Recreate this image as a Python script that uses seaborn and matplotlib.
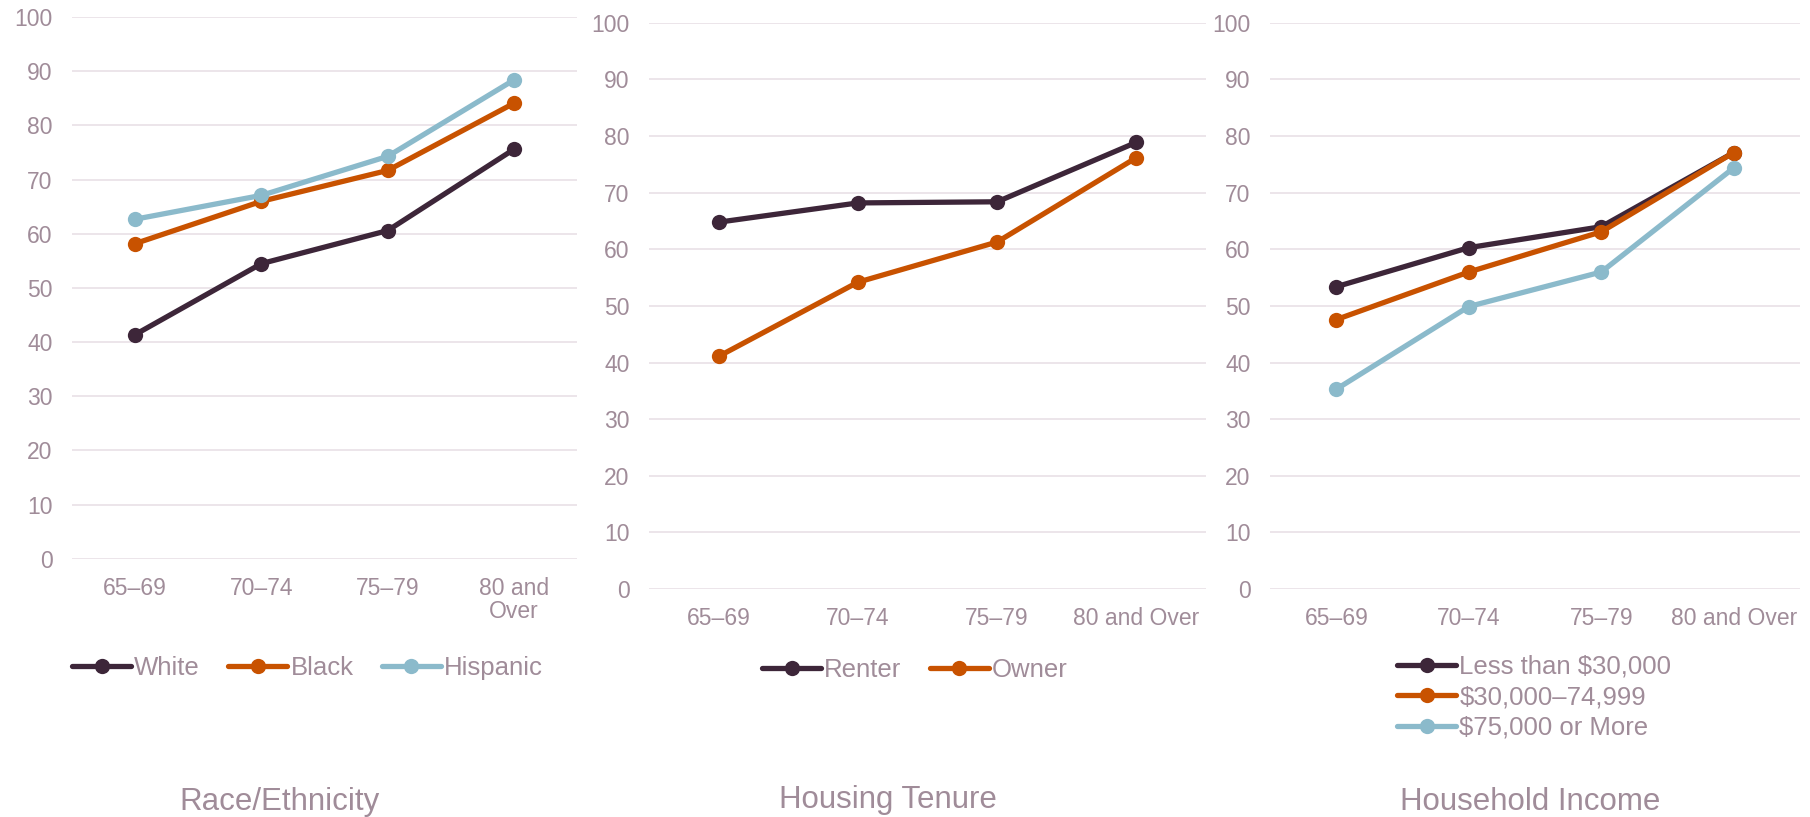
import pandas as pd
import seaborn as sns
import matplotlib.pyplot as plt

ages = ["65–69", "70–74", "75–79", "80 and Over"]

race_groups = ["White", "Black", "Hispanic"]
white = [41.4, 54.5, 60.6, 75.6]
black = [58.2, 66.0, 71.7, 84.1]
hispanic = [62.7, 67.1, 74.3, 88.4]

tenure_groups = ["Renter", "Owner"]
renter = [64.8, 68.2, 68.4, 78.9]
owner = [41.1, 54.2, 61.3, 76.2]

income_groups = ["Less than $30,000", "$30,000–74,999", "$75,000 or More"]
inc_low = [53.4, 60.3, 64.0, 77.1]
inc_mid = [47.6, 56.0, 63.1, 77.1]
inc_high = [35.3, 49.9, 56.0, 74.4]

colors = ["#3d2639", "#c85200", "#8bbacb"]
text_color = "#a08c99"
grid_color = "#ebe3e8"


def make_frame(groups, series):
    rows = []
    for g, vals in zip(groups, series):
        for a, v in zip(ages, vals):
            rows.append({"age": a, "value": v, "group": g})
    return pd.DataFrame(rows)


sns.set_style("white")
plt.rcParams["font.family"] = ["Liberation Sans", "DejaVu Sans"]

fig = plt.figure(figsize=(18.1, 8.17), dpi=100)

panels = [
    ([0.0398, 0.316, 0.279, 0.663], race_groups, [white, black, hispanic], True),
    ([0.3586, 0.279, 0.3077, 0.693], tenure_groups, [renter, owner], False),
    ([0.7017, 0.279, 0.2928, 0.693], income_groups, [inc_low, inc_mid, inc_high], False),
]

axes = []
for rect, groups, series, wrap in panels:
    ax = fig.add_axes(rect)
    df = make_frame(groups, series)
    sns.lineplot(data=df, x="age", y="value", hue="group", marker="o",
                 palette=colors[:len(groups)], linewidth=3.8, markersize=11,
                 markeredgewidth=0, sort=False, ax=ax, clip_on=False)
    ax.set_xlim(-0.5, 3.5)
    ax.set_ylim(0, 100)
    ax.set_yticks(range(0, 101, 10))
    ax.set_xticks(range(len(ages)))
    if wrap:
        ax.set_xticklabels(["65–69", "70–74", "75–79", "80 and\nOver"], linespacing=1.0)
    else:
        ax.set_xticklabels(ages)
    ax.set_xlabel("")
    ax.set_ylabel("")
    for s in ax.spines.values():
        s.set_visible(False)
    ax.yaxis.grid(True, color=grid_color, linewidth=1.3)
    ax.set_axisbelow(True)
    ax.tick_params(axis="both", length=0, labelsize=16.5, colors=text_color)
    ax.tick_params(axis="x", pad=13)
    ax.tick_params(axis="y", pad=14)
    ax.get_legend().remove()
    axes.append(ax)

leg_kw = dict(frameon=False, fontsize=18.5, labelcolor=text_color,
              handlelength=2.3, handletextpad=0.12, borderpad=0,
              borderaxespad=0, loc="center left")
h, l = axes[0].get_legend_handles_labels()
axes[0].legend(h, l, bbox_to_anchor=(0.0, -0.201), ncol=3, columnspacing=1.1, **leg_kw)
h, l = axes[1].get_legend_handles_labels()
axes[1].legend(h, l, bbox_to_anchor=(0.203, -0.143), ncol=2, columnspacing=1.1, **leg_kw)
h, l = axes[2].get_legend_handles_labels()
axes[2].legend(h, l, bbox_to_anchor=(0.24, -0.191), ncol=1, labelspacing=0.25, **leg_kw)

fig.text(0.1545, 0.009, "Race/Ethnicity", ha="center", va="baseline", fontsize=22.5, color=text_color)
fig.text(0.4905, 0.011, "Housing Tenure", ha="center", va="baseline", fontsize=22.5, color=text_color)
fig.text(0.8455, 0.009, "Household Income", ha="center", va="baseline", fontsize=22.5, color=text_color)

fig.savefig("out.png", dpi=100, facecolor="white")
